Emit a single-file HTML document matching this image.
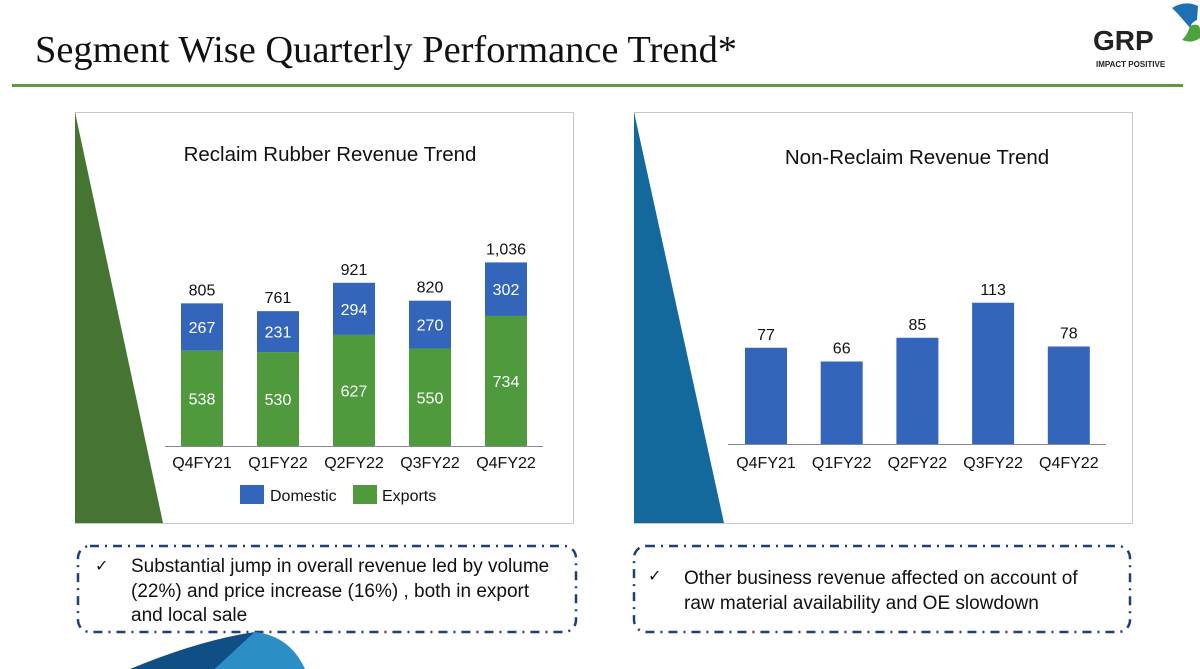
<!DOCTYPE html>
<html><head><meta charset="utf-8"><style>
html,body{margin:0;padding:0;background:#fff;}
svg{display:block;font-family:"Liberation Sans",sans-serif;}
.serif{font-family:"Liberation Serif",serif;}
</style></head><body>
<svg width="1200" height="669" viewBox="0 0 1200 669">
<text class="serif" x="35" y="62" font-size="38" textLength="702" lengthAdjust="spacingAndGlyphs" fill="#111">Segment Wise Quarterly Performance Trend*</text>
<rect x="12" y="84" width="1171" height="3" fill="#5b9b3c"/>
<g>
<text x="1093" y="50" font-size="28" font-weight="bold" fill="#222">GRP</text>
<text x="1096" y="67" font-size="8" font-weight="bold" fill="#222">IMPACT POSITIVE</text>
<path d="M1172 8 Q1185 0 1198 6 L1197 20 Q1188 24 1192 30 L1178 14 Z" fill="#1f6fb3"/>
<path d="M1190 26 Q1200 22 1200 30 L1200 38 Q1192 44 1182 40 Q1188 34 1190 26 Z" fill="#4aa33c"/>
</g>
<g>
<rect x="75.5" y="112.5" width="498" height="411" fill="#fff" stroke="#c8c8c8"/>
<polygon points="75,112 163,523 75,523" fill="#467533"/>
<text x="330" y="161" font-size="20.5" text-anchor="middle" fill="#111">Reclaim Rubber Revenue Trend</text>
<g id="lchart"></g>
<rect x="240" y="485" width="24" height="19" fill="#3366bb"/>
<text x="270" y="501" font-size="16" fill="#111">Domestic</text>
<rect x="353" y="485" width="24" height="19" fill="#4e9a3c"/>
<text x="382" y="501" font-size="16" fill="#111">Exports</text>
</g>
<g>
<rect x="634.5" y="112.5" width="498" height="411" fill="#fff" stroke="#c8c8c8"/>
<polygon points="634,112 724,523 634,523" fill="#13699b"/>
<text x="917" y="164" font-size="20.5" text-anchor="middle" fill="#111">Non-Reclaim Revenue Trend</text>
<g id="rchart"></g>
</g>
<g>
<rect x="78" y="546" width="498" height="86" rx="12" fill="none" stroke="#1f3f77" stroke-width="2.5" stroke-dasharray="9,6,2,6"/>
<text x="95" y="571" font-size="16" fill="#111">✓</text>
<text font-size="19" fill="#111"><tspan x="131" y="572">Substantial jump in overall revenue led by volume</tspan><tspan x="131" y="597">(22%) and price increase (16%) , both in export</tspan><tspan x="131" y="621">and local sale</tspan></text>
</g>
<g>
<rect x="634" y="546" width="496" height="86" rx="12" fill="none" stroke="#1f3f77" stroke-width="2.5" stroke-dasharray="9,6,2,6"/>
<text x="648" y="581" font-size="16" fill="#111">✓</text>
<text font-size="19" fill="#111"><tspan x="684" y="584">Other business revenue affected on account of</tspan><tspan x="684" y="609">raw material availability and OE slowdown</tspan></text>
</g>
<g>
<path d="M130 669 Q200 640 255 632 L215 669 Z" fill="#0f4f85"/>
<path d="M255 632 Q290 636 305 669 L215 669 Z" fill="#2b8ec4"/>
</g>
</svg>
<script>
const categories=["Q4FY21","Q1FY22","Q2FY22","Q3FY22","Q4FY22"];
const exportsVals=[538,530,627,550,734];
const domesticVals=[267,231,294,270,302];
const totalLabels=["805","761","921","820","1,036"];
const otherVals=[77,66,85,113,78];
const NS="http://www.w3.org/2000/svg";
function mk(parent,tag,attrs,txt){const e=document.createElementNS(NS,tag);for(const k in attrs)e.setAttribute(k,attrs[k]);if(txt!=null)e.textContent=txt;parent.appendChild(e);return e;}
const L=document.getElementById('lchart');
const lBase=446,lScale=0.1772,lX0=202,lStep=76,bw=42;
const lx=i=>lX0+i*lStep, ly=v=>lBase-v*lScale;
mk(L,'line',{x1:165,x2:543,y1:lBase+0.5,y2:lBase+0.5,stroke:'#888','stroke-width':1});
categories.forEach((c,i)=>{
 const e=exportsVals[i],d=domesticVals[i];
 const r1=mk(L,'rect',{x:lx(i)-bw/2,y:ly(e),width:bw,height:e*lScale,fill:'#4e9a3c'});
 
 
 const r2=mk(L,'rect',{x:lx(i)-bw/2,y:ly(e+d),width:bw,height:d*lScale,fill:'#3366bb'});
 
 
 mk(L,'text',{x:lx(i),y:(ly(e)+lBase)/2+6,'font-size':16,'text-anchor':'middle',fill:'#fff'},e);
 mk(L,'text',{x:lx(i),y:(ly(e)+ly(e+d))/2+6,'font-size':16,'text-anchor':'middle',fill:'#fff'},d);
 const t=mk(L,'text',{x:lx(i),y:ly(e+d)-8,'font-size':16,'text-anchor':'middle',fill:'#111'},totalLabels[i]);
 
 
 const a=mk(L,'text',{x:lx(i),y:lBase+22,'font-size':16,'text-anchor':'middle',fill:'#111'},c);
 
 
});
const R=document.getElementById('rchart');
const rBase=444,rScale=1.25,rX0=766,rStep=75.7;
const rx=i=>rX0+i*rStep, ry=v=>rBase-v*rScale;
mk(R,'line',{x1:728,x2:1106,y1:rBase+0.5,y2:rBase+0.5,stroke:'#888','stroke-width':1});
categories.forEach((c,i)=>{
 const v=otherVals[i];
 const r=mk(R,'rect',{x:rx(i)-bw/2,y:ry(v),width:bw,height:v*rScale,fill:'#3366bb'});
 
 
 mk(R,'text',{x:rx(i),y:ry(v)-8,'font-size':16,'text-anchor':'middle',fill:'#111'},v);
 const a=mk(R,'text',{x:rx(i),y:rBase+24,'font-size':16,'text-anchor':'middle',fill:'#111'},c);
 
 
});
</script>
</body></html>
